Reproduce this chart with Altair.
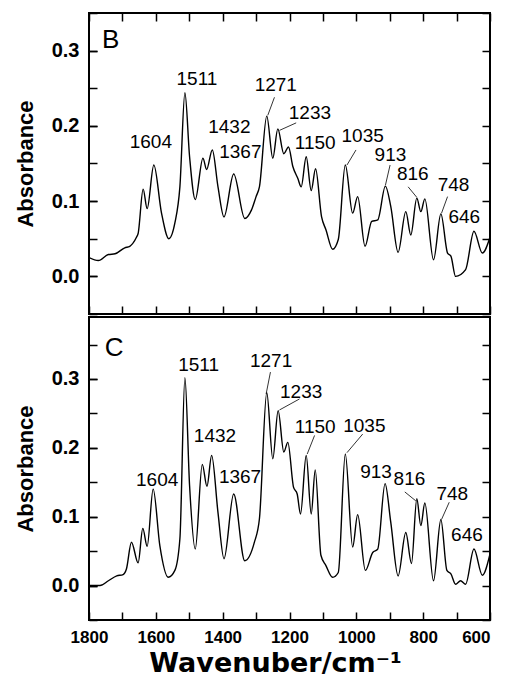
import altair as alt
import pandas as pd

# ---- spectrum B ----
wn_b = [1800, 1772, 1742, 1722, 1693, 1678, 1658, 1653, 1638, 1626, 1606, 1583, 1561, 1543, 1528,
        1513, 1499, 1482, 1459, 1448, 1431, 1414, 1396, 1367, 1334, 1314, 1300, 1290, 1268, 1250,
        1235, 1217, 1203, 1190, 1175, 1165, 1150, 1135, 1122, 1104, 1091, 1071, 1054, 1033, 1011,
        996, 974, 954, 936, 913, 897, 875, 852, 837, 819, 807, 795, 769, 747, 727, 717, 703, 673,
        648, 623, 600]
abs_b = [0.025, 0.021, 0.029, 0.030, 0.038, 0.040, 0.052, 0.057, 0.116, 0.090, 0.148, 0.084, 0.050,
         0.071, 0.119, 0.244, 0.159, 0.102, 0.157, 0.142, 0.168, 0.119, 0.079, 0.136, 0.077, 0.088,
         0.106, 0.119, 0.213, 0.157, 0.196, 0.163, 0.172, 0.146, 0.130, 0.119, 0.159, 0.114, 0.143,
         0.079, 0.062, 0.036, 0.049, 0.148, 0.084, 0.106, 0.040, 0.073, 0.075, 0.120, 0.093, 0.032,
         0.086, 0.055, 0.104, 0.086, 0.103, 0.022, 0.083, 0.031, 0.027, 0.000, 0.009, 0.060, 0.031,
         0.052]

# ---- spectrum C ----
wn_c = [1800, 1767, 1742, 1717, 1698, 1688, 1673, 1653, 1639, 1626, 1608, 1588, 1563, 1543, 1528,
        1513, 1499, 1482, 1461, 1447, 1433, 1414, 1396, 1367, 1334, 1305, 1290, 1268, 1250, 1234,
        1217, 1205, 1188, 1177, 1167, 1150, 1135, 1123, 1106, 1091, 1071, 1054, 1033, 1011, 996,
        973, 951, 936, 914, 897, 875, 852, 835, 819, 807, 795, 769, 747, 729, 717, 703, 688, 673,
        648, 623, 600]
abs_c = [0.000, 0.000, 0.007, 0.014, 0.016, 0.024, 0.063, 0.033, 0.083, 0.057, 0.140, 0.058, 0.012,
         0.022, 0.068, 0.302, 0.145, 0.053, 0.176, 0.144, 0.189, 0.106, 0.039, 0.133, 0.036, 0.063,
         0.097, 0.280, 0.184, 0.254, 0.194, 0.208, 0.143, 0.133, 0.104, 0.189, 0.104, 0.168, 0.044,
         0.029, 0.012, 0.019, 0.191, 0.056, 0.103, 0.022, 0.048, 0.053, 0.148, 0.092, 0.014, 0.077,
         0.032, 0.126, 0.087, 0.120, 0.007, 0.096, 0.022, 0.017, 0.002, 0.007, 0.002, 0.053, 0.015,
         0.046]

# ---- peak labels ----
peak_text = ["1604", "1511", "1432", "1367", "1271", "1233", "1150", "1035", "913", "816", "748", "646"]
lab_b_wn = [1615, 1477, 1380, 1347, 1241, 1139, 1123, 981, 898, 831, 709, 677]
lab_b_y = [0.171, 0.254, 0.190, 0.157, 0.246, 0.209, 0.169, 0.179, 0.153, 0.128, 0.113, 0.071]
lab_c_wn = [1596, 1472, 1423, 1348, 1255, 1165, 1123, 976, 941, 841, 713, 669]
lab_c_y = [0.145, 0.312, 0.209, 0.149, 0.317, 0.273, 0.222, 0.223, 0.156, 0.146, 0.124, 0.065]

# ---- leader lines ----
lead_b_x1 = [1245, 1180, 1001, 899, 845, 727]
lead_b_y1 = [0.238, 0.204, 0.168, 0.148, 0.119, 0.106]
lead_b_x2 = [1265, 1230, 1028, 913, 819, 745]
lead_b_y2 = [0.214, 0.194, 0.148, 0.121, 0.105, 0.084]
lead_c_x1 = [1257, 1170, 1125, 981, 855, 722]
lead_c_y1 = [0.310, 0.271, 0.218, 0.220, 0.136, 0.121]
lead_c_x2 = [1270, 1230, 1147, 1028, 822, 745]
lead_c_y2 = [0.278, 0.255, 0.191, 0.193, 0.123, 0.096]

# ---- panel letters ----
letters = ["B", "C"]
letter_wn = [1735, 1725]
letter_y = [0.304, 0.334]

# ---- axes ----
x_ticks = [1800, 1700, 1600, 1500, 1400, 1300, 1200, 1100, 1000, 900, 800, 700, 600]
y_ticks = [-0.05, 0.0, 0.05, 0.1, 0.15, 0.2, 0.25, 0.3, 0.35]
y_labels = [0.0, 0.1, 0.2, 0.3]
x_domain = [600, 1800]
y_dom_b = [-0.05, 0.35]
y_dom_c = [-0.05, 0.39]

FONT = "Liberation Sans"
W = 401
TICK = dict(offset=-8, tickSize=8, tickWidth=1.5, domain=False, grid=False)


def panel(wn, ab, lab_wn, lab_y, lx1, ly1, lx2, ly2, letter_idx, ydom, h, bottom):
    xs = alt.Scale(domain=x_domain, reverse=True, nice=False, zero=False)
    ys = alt.Scale(domain=ydom, nice=False, zero=False)
    y_left = alt.Axis(orient="left", values=y_labels, format=".1f",
                      labelFont=FONT, labelFontSize=20, labelFontWeight="bold", labelPadding=10,
                      labelOverlap=False, title="Absorbance", titleFont=FONT, titleFontSize=22,
                      titleFontWeight="bold", titlePadding=14, **TICK)
    y_left_minor = alt.Axis(orient="left", values=y_ticks, labels=False, title=None,
                            minExtent=0, **TICK)
    y_right = alt.Axis(orient="right", values=y_ticks, labels=False, title=None,
                       minExtent=0, **TICK)
    if bottom:
        x_bot = alt.Axis(orient="bottom", values=x_ticks,
                         format="d", labelExpr="datum.value % 200 == 0 ? datum.label : ''",
                         labelAlign=alt.condition("datum.value == 600", alt.value("right"), alt.value("center")),
                         labelFont=FONT, labelFontSize=17, labelFontWeight="bold", labelPadding=9,
                         labelOverlap=False, labelFlush=False,
                         title="Wavenuber/cm\u207b\u00b9", titleFont="DejaVu Sans", titleFontSize=27,
                         titleFontWeight="bold", titlePadding=5, titleX=186, **TICK)
        x_top = None
    else:
        x_bot = alt.Axis(orient="bottom", values=x_ticks, labels=False, title=None,
                         minExtent=0, **TICK)
        x_top = alt.Axis(orient="top", values=x_ticks, labels=False, title=None,
                         minExtent=0, **TICK)

    line = alt.Chart(pd.DataFrame({"wn": wn, "a": ab})).mark_line(
        color="black", strokeWidth=1.4, interpolate="monotone", clip=True
    ).encode(
        x=alt.X("wn:Q", scale=xs, axis=x_bot),
        y=alt.Y("a:Q", scale=ys, axis=y_left),
    )
    txt = alt.Chart(pd.DataFrame({"wn": lab_wn, "a": lab_y, "t": peak_text})).mark_text(
        font=FONT, fontSize=19, color="black", align="center", baseline="alphabetic"
    ).encode(
        x=alt.X("wn:Q", scale=xs, axis=x_top),
        y=alt.Y("a:Q", scale=ys, axis=y_right),
        text="t:N",
    )
    leads = alt.Chart(pd.DataFrame({"x1": lx1, "y1": ly1, "x2": lx2, "y2": ly2})).mark_rule(
        color="black", strokeWidth=0.8
    ).encode(
        x=alt.X("x1:Q", scale=xs, axis=None),
        y=alt.Y("y1:Q", scale=ys, axis=y_left_minor),
        x2="x2:Q",
        y2="y2:Q",
    )
    let = alt.Chart(pd.DataFrame({"wn": [letter_wn[letter_idx]], "a": [letter_y[letter_idx]],
                                  "t": [letters[letter_idx]]})).mark_text(
        font=FONT, fontSize=26, color="black", align="center", baseline="alphabetic"
    ).encode(
        x=alt.X("wn:Q", scale=xs, axis=None),
        y=alt.Y("a:Q", scale=ys, axis=None),
        text="t:N",
    )
    return alt.layer(line, txt, leads, let).resolve_axis(x="independent", y="independent").properties(
        width=W, height=h
    )


pb = panel(wn_b, abs_b, lab_b_wn, lab_b_y, lead_b_x1, lead_b_y1, lead_b_x2, lead_b_y2, 0, y_dom_b, 301, False)
pc = panel(wn_c, abs_c, lab_c_wn, lab_c_y, lead_c_x1, lead_c_y1, lead_c_x2, lead_c_y2, 1, y_dom_c, 303, True)

chart = alt.vconcat(pb, pc, spacing=0).properties(
    padding={"left": 5, "top": 3, "right": 0, "bottom": 0}
).configure_view(
    stroke="black", strokeWidth=2
).configure_axis(
    tickColor="black", labelColor="black", titleColor="black"
)

chart.save("out.html", embed_options={"renderer": "svg", "actions": False})
